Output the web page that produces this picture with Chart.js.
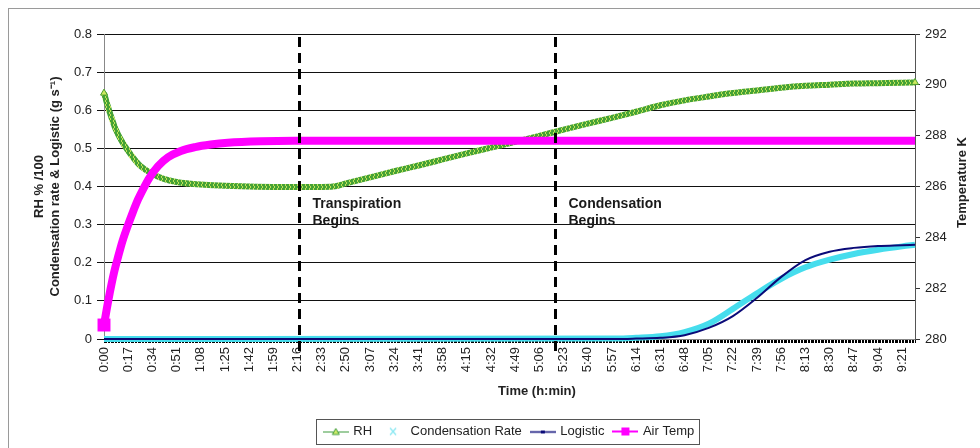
<!DOCTYPE html>
<html>
<head>
<meta charset="utf-8">
<script src="https://cdn.jsdelivr.net/npm/chart.js@4.4.0/dist/chart.umd.min.js"></script>
<style>
  html, body { margin: 0; padding: 0; background: #fff; }
  #wrap { width: 980px; height: 448px; position: relative; }
</style>
</head>
<body>
<div id="wrap"><canvas id="LineChart"></canvas></div>
<script>
// tick labels of the time axis (one every 17 min)
var timeTicks = ['0:00','0:17','0:34','0:51','1:08','1:25','1:42','1:59','2:16','2:33','2:50','3:07','3:24','3:41','3:58','4:15','4:32','4:49','5:06','5:23','5:40','5:57','6:14','6:31','6:48','7:05','7:22','7:39','7:56','8:13','8:30','8:47','9:04','9:21'];
var timeEnd = '9:30';

// RH % /100 (left axis)
var rhTimes = ['0:00','0:04','0:08','0:12','0:17','0:25','0:34','0:42','0:51','1:08','1:25','1:42','1:59','2:16','2:33','2:41','2:50','3:07','3:24','3:41','3:58','4:15','4:32','4:49','5:06','5:23','5:40','5:57','6:14','6:31','6:48','7:05','7:22','7:39','7:56','8:13','8:30','8:47','9:04','9:21','9:30'];
var rhValues = [0.645,0.595,0.552,0.522,0.493,0.456,0.433,0.420,0.412,0.405,0.402,0.400,0.399,0.399,0.399,0.400,0.408,0.424,0.440,0.455,0.471,0.487,0.502,0.517,0.533,0.549,0.565,0.580,0.596,0.613,0.626,0.636,0.645,0.652,0.659,0.664,0.667,0.670,0.671,0.672,0.673];

// air temperature, K (right axis)
var airTimes = ['0:00','0:02','0:04','0:07','0:10','0:13','0:17','0:20','0:24','0:28','0:32','0:38','0:45','0:54','1:04','1:15','1:27','1:50','2:14','4:00','6:00','8:00','9:30'];
var airTemp = [280.55,281.2,281.8,282.6,283.25,283.85,284.5,284.95,285.5,285.95,286.35,286.8,287.15,287.4,287.55,287.65,287.72,287.78,287.8,287.8,287.8,287.8,287.8];

// condensation rate and logistic fit, g/s (left axis)
var condTimes = ['0:00','6:00','6:14','6:31','6:48','7:05','7:22','7:39','7:56','8:13','8:30','8:47','9:04','9:21','9:30'];
var condRate = [0,0.001,0.003,0.007,0.018,0.040,0.079,0.120,0.158,0.188,0.208,0.223,0.234,0.243,0.247];
var logistic = [0,0,0.001,0.003,0.010,0.029,0.060,0.108,0.163,0.207,0.229,0.239,0.244,0.246,0.247];

// event markers
var eventTimes = ['2:17','5:17'];
var eventLabels = [['Transpiration','Begins'],['Condensation','Begins']];
var xTitle = 'Time (h:min)';
var rightTitle = 'Temperature K';

function toMin(s) { var p = s.split(':'); return (+p[0]) * 60 + (+p[1]); }
function pts(times, vals) { return times.map(function (t, i) { return { x: toMin(t), y: vals[i] }; }); }

var tickText = {};
timeTicks.forEach(function (t) { tickText[toMin(t)] = t; });

var ctx = document.getElementById('LineChart').getContext('2d');

// green/yellow hatch to look like the packed triangle markers
var tile = document.createElement('canvas');
tile.width = 4; tile.height = 4;
var tc = tile.getContext('2d');
tc.fillStyle = '#45a236'; tc.fillRect(0, 0, 4, 4);
tc.fillStyle = '#c2e356'; tc.fillRect(1, 0, 1, 2); tc.fillRect(2, 2, 1, 2);
var rhPattern = ctx.createPattern(tile, 'repeat');

function icon(draw) {
  var c = document.createElement('canvas');
  c.width = 26; c.height = 14;
  draw(c.getContext('2d'));
  return c;
}
var legendIcons = [
  icon(function (g) {
    g.strokeStyle = '#3d9b3d'; g.lineWidth = 1;
    g.beginPath(); g.moveTo(0, 7.5); g.lineTo(26, 7.5); g.stroke();
    g.fillStyle = '#d2ec6a'; g.beginPath(); g.moveTo(13, 4); g.lineTo(16.5, 10); g.lineTo(9.5, 10); g.closePath(); g.fill(); g.stroke();
  }),
  icon(function (g) {
    g.strokeStyle = '#8ce8f2'; g.lineWidth = 1.3;
    g.beginPath(); g.moveTo(10, 3.5); g.lineTo(16, 10.5); g.moveTo(16, 3.5); g.lineTo(10, 10.5); g.stroke();
  }),
  icon(function (g) {
    g.strokeStyle = '#0a0a78'; g.lineWidth = 1.5;
    g.beginPath(); g.moveTo(0, 7.5); g.lineTo(26, 7.5); g.stroke();
    g.fillStyle = '#0a0a78'; g.fillRect(11, 6, 4, 3);
  }),
  icon(function (g) {
    g.strokeStyle = '#ff00ff'; g.lineWidth = 2;
    g.beginPath(); g.moveTo(0, 7); g.lineTo(26, 7); g.stroke();
    g.fillStyle = '#ff00ff'; g.fillRect(9, 3, 8, 8);
  })
];

var extras = {
  id: 'extras',
  beforeDraw: function (chart) {
    var c = chart.ctx;
    c.save();
    c.fillStyle = '#fff'; c.fillRect(0, 0, chart.width, chart.height);
    c.strokeStyle = '#9a9a9a'; c.lineWidth = 1;
    c.strokeRect(8.5, 8.5, chart.width + 20, chart.height + 20);
    c.restore();
  },
  afterDatasetsDraw: function (chart) {
    var c = chart.ctx, a = chart.chartArea;
    var xs = chart.scales.x, yl = chart.scales.y;
    c.save();
    eventTimes.forEach(function (t, i) {
      var px = Math.round(xs.getPixelForValue(toMin(t))) + 0.5;
      c.strokeStyle = '#000'; c.lineWidth = 3; c.setLineDash([10, 6]);
      c.beginPath(); c.moveTo(px, a.top + 3); c.lineTo(px, a.bottom + 14); c.stroke();
      c.setLineDash([]);
      c.fillStyle = '#1a1a1a';
      c.font = "bold 14px 'Liberation Sans', Arial, sans-serif";
      c.textBaseline = 'top'; c.textAlign = 'left';
      var top = yl.getPixelForValue(0.372);
      eventLabels[i].forEach(function (line, k) { c.fillText(line, px + 13, top + k * 17); });
    });
    c.restore();
  },
  afterDraw: function (chart) {
    var c = chart.ctx, a = chart.chartArea;
    c.save();
    c.fillStyle = '#222';
    c.font = "bold 13px 'Liberation Sans', Arial, sans-serif";
    c.textAlign = 'center'; c.textBaseline = 'middle';
    // x axis title sits a little right of centre in the original
    c.fillText(xTitle, 537, a.bottom + 52);
    // right axis title, reading bottom to top
    c.translate(962, (a.top + a.bottom) / 2 - 4);
    c.rotate(-Math.PI / 2);
    c.fillText(rightTitle, 0, 0);
    c.restore();

    var boxes = chart.legend && chart.legend.legendHitBoxes;
    if (!boxes || !boxes.length) return;
    var l = Infinity, r = -Infinity, t = Infinity, b = -Infinity;
    boxes.forEach(function (h) {
      l = Math.min(l, h.left); r = Math.max(r, h.left + h.width);
      t = Math.min(t, h.top); b = Math.max(b, h.top + h.height);
    });
    c.save();
    c.strokeStyle = '#555'; c.lineWidth = 1;
    c.strokeRect(Math.round(l - 9) + 0.5, Math.round(t - 6) + 0.5, Math.round(r - l + 14), Math.round(b - t + 12));
    c.restore();
  }
};

Chart.defaults.font.family = "'Liberation Sans', Arial, sans-serif";
Chart.defaults.font.size = 13;
Chart.defaults.color = '#222';

var myChart = new Chart(ctx, {
  type: 'line',
  data: {
    datasets: [{
      label: 'RH',
      data: pts(rhTimes, rhValues),
      yAxisID: 'y',
      borderColor: rhPattern,
      borderWidth: 6,
      borderJoinStyle: 'round',
      pointStyle: 'triangle',
      pointRadius: function (c) { return (c.dataIndex === 0 || c.dataIndex === rhValues.length - 1) ? 4 : 0; },
      pointBackgroundColor: '#cfe95f',
      pointBorderColor: '#4a9f2e',
      pointBorderWidth: 1,
      cubicInterpolationMode: 'monotone',
      order: 4,
      clip: false
    }, {
      label: 'Condensation Rate',
      data: pts(condTimes, condRate),
      yAxisID: 'y',
      borderColor: '#46dded',
      borderWidth: 6,
      borderJoinStyle: 'round',
      pointRadius: 0,
      cubicInterpolationMode: 'monotone',
      order: 3,
      clip: false
    }, {
      label: 'Logistic',
      data: pts(condTimes, logistic),
      yAxisID: 'y',
      borderColor: '#0a0a78',
      borderWidth: 2,
      pointRadius: 0,
      cubicInterpolationMode: 'monotone',
      order: 2,
      clip: false
    }, {
      label: 'Air Temp',
      data: pts(airTimes, airTemp),
      yAxisID: 'y1',
      borderColor: '#ff00ff',
      borderWidth: 8,
      borderJoinStyle: 'round',
      pointStyle: 'rect',
      pointRadius: function (c) { return c.dataIndex === 0 ? 3.5 : 0; },
      pointBackgroundColor: '#ff00ff',
      pointBorderColor: '#ff00ff',
      cubicInterpolationMode: 'monotone',
      order: 1,
      clip: false
    }]
  },
  options: {
    responsive: true,
    maintainAspectRatio: false,
    animation: false,
    events: [],
    layout: { padding: { left: 26, right: 4, top: 34, bottom: 0 } },
    scales: {
      x: {
        type: 'linear',
        min: 0,
        max: toMin(timeEnd),
        afterBuildTicks: function (axis) {
          var t = [];
          for (var m = 0; m <= toMin(timeEnd); m++) t.push({ value: m });
          axis.ticks = t;
        },
        afterFit: function (axis) { axis.height = 76; },
        ticks: {
          autoSkip: false,
          minRotation: 90,
          maxRotation: 90,
          padding: 4,
          callback: function (v) { return tickText[v] || ''; }
        },
        grid: { drawOnChartArea: false, drawTicks: true, tickLength: 4, color: '#000' },
        border: { color: '#888' }
      },
      y: {
        position: 'left',
        min: 0,
        max: 0.8,
        ticks: { stepSize: 0.1, padding: 5 },
        afterFit: function (axis) { axis.width = 78; },
        grid: { color: '#111', tickLength: 7 },
        border: { color: '#888' },
        title: {
          display: true,
          text: ['RH % /100', 'Condensation rate & Logistic (g s\u207B\u00B9)'],
          font: { weight: 'bold', size: 13 },
          padding: { top: 6, bottom: 0 }
        }
      },
      y1: {
        position: 'right',
        min: 280,
        max: 292,
        ticks: { stepSize: 2, padding: 5 },
        afterFit: function (axis) { axis.width = 61; },
        grid: { drawOnChartArea: false, tickLength: 5, color: '#333' },
        border: { color: '#555' }
      }
    },
    plugins: {
      tooltip: { enabled: false },
      legend: {
        position: 'bottom',
        fullSize: false,
        labels: {
          usePointStyle: true,
          pointStyleWidth: 22,
          padding: 10,
          color: '#222',
          font: { size: 13 },
          sort: function (a, b) { return a.datasetIndex - b.datasetIndex; },
          generateLabels: function (chart) {
            var items = Chart.defaults.plugins.legend.labels.generateLabels(chart);
            items.forEach(function (it) { it.pointStyle = legendIcons[it.datasetIndex]; });
            return items;
          }
        }
      }
    }
  },
  plugins: [extras]
});
</script>
</body>
</html>
